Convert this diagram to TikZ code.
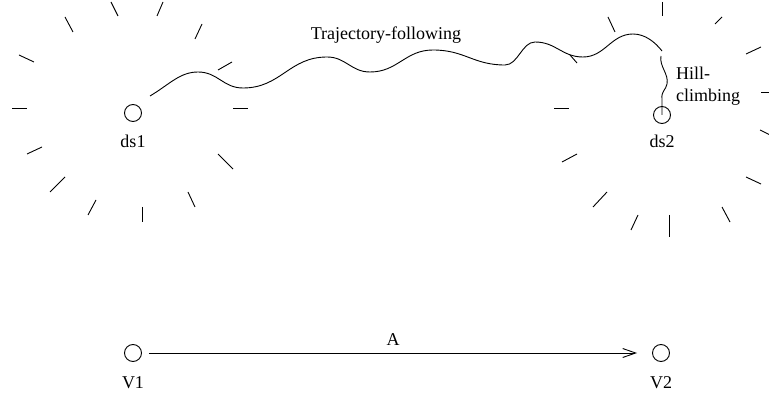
\documentclass[tikz,border=0pt]{standalone}
\usepackage{fontspec}
\setmainfont{Liberation Serif}
\usetikzlibrary{arrows.meta}
\begin{document}
\begin{tikzpicture}[x=1pt,y=-1pt,
  every node/.style={font=\fontsize{18}{22}\selectfont, inner sep=0pt},
  pt/.style={draw, circle, line width=0.9pt, minimum size=17pt},
  lbl/.style={anchor=base},
  ray/.style={line width=0.9pt},
  curve/.style={line width=0.9pt},
  arr/.style={line width=0.9pt, -{Straight Barb[length=13pt,width=9pt,line width=0.9pt]}}]
\useasboundingbox (0,0) rectangle (769,398);

% main points
\node[pt] (ds1) at (133,113) {};
\node[lbl] (ds1l) at (133,148) {ds1};
\node[pt] (ds2) at (662,115) {};
\node[lbl] (ds2l) at (662,148) {ds2};
\node[pt] (v1) at (133,353) {};
\node[lbl] (v1l) at (133,388) {V1};
\node[pt] (v2) at (661,353) {};
\node[lbl] (v2l) at (661,388) {V2};

% labels
\node[lbl] (traj) at (386,40) {Trajectory-following};
\node[anchor=west, align=left] (hill) at (676,86) {Hill-\\climbing};
\node[lbl] (alab) at (393,345) {A};

% rays around ds1
\draw[ray] (111,2) -- (118,16);
\draw[ray] (163,2) -- (157,16);
\draw[ray] (65,17) -- (73,32);
\draw[ray] (202,24) -- (195,39);
\draw[ray] (19,55) -- (34,62);
\draw[ray] (232,62) -- (218,70);
\draw[ray] (12,108) -- (27,108);
\draw[ray] (233,108) -- (248,108);
\draw[ray] (27,154) -- (42,147);
\draw[ray] (218,154) -- (233,169);
\draw[ray] (50,192) -- (65,177);
\draw[ray] (188,192) -- (195,207);
\draw[ray] (88,215) -- (96,200);
\draw[ray] (142,207) -- (142,222);

% rays around ds2
\draw[ray] (662,2) -- (662,16);
\draw[ray] (608,17) -- (615,32);
\draw[ray] (722,17) -- (715,24);
\draw[ray] (761,47) -- (746,54);
\draw[ray] (570,55) -- (577,63);
\draw[ray] (554,108) -- (569,108);
\draw[ray] (761,92) -- (770,92);
\draw[ray] (760,130) -- (770,135);
\draw[ray] (562,162) -- (577,154);
\draw[ray] (746,177) -- (761,184);
\draw[ray] (593,207) -- (607,192);
\draw[ray] (722,207) -- (730,222);
\draw[ray] (631,230) -- (638,215);
\draw[ray] (669,215) -- (669,237);

% trajectory
\coordinate (tstart) at (150,96);
\coordinate (ttop) at (662,51);
\draw[curve] (tstart) .. controls (170,84) and (180,72) .. (198,72)
  .. controls (218,72) and (223,88) .. (243,88)
  .. controls (281,88) and (289,57) .. (327,57)
  .. controls (346,57) and (351,72) .. (370,72)
  .. controls (398,72) and (405,50) .. (433,50)
  .. controls (465,50) and (473,65) .. (505,65)
  .. controls (518,65) and (522,42) .. (535,42)
  .. controls (556,42) and (562,57) .. (583,57)
  .. controls (605,57) and (611,34) .. (633,34)
  .. controls (645,34) and (655,42) .. (ttop);

% hill-climbing
\coordinate (hstart) at (661,56);
\draw[curve] (hstart) .. controls (659,66) and (669,74) .. (667,84)
  .. controls (666,90) and (661,91) .. (662,99) -- (ds2.center);

% A arrow
\draw[arr, shorten <=7pt, shorten >=15pt] (v1) -- (v2);
\end{tikzpicture}
\end{document}
